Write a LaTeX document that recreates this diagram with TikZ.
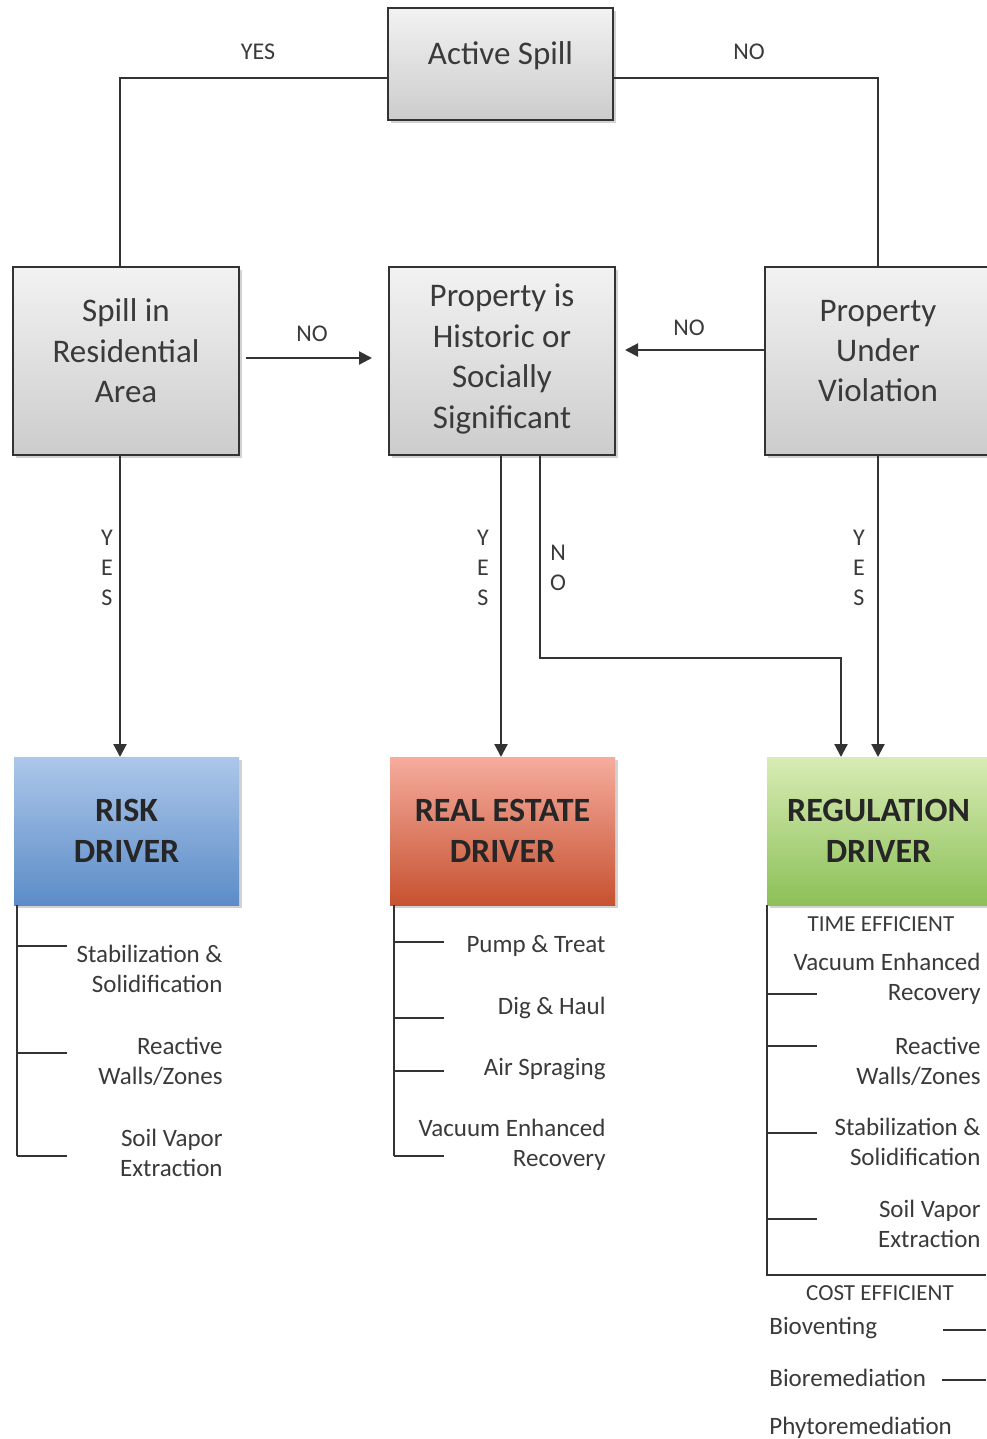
\documentclass[tikz,border=0pt]{standalone}
\usepackage{fontspec}
\setmainfont{Carlito}
\usetikzlibrary{arrows.meta,shadows,positioning}
\definecolor{lineC}{HTML}{333333}
\definecolor{txtC}{HTML}{3A3A3A}
\definecolor{boldC}{HTML}{262626}
\tikzset{
  gbox/.style={draw=lineC, line width=1pt, top color=white!95!black, bottom color=white!80!black,
    drop shadow={opacity=0.35, shadow xshift=1.5pt, shadow yshift=-1.5pt}, inner sep=0pt},
  boxtext/.style={text=txtC, align=center, font=\fontsize{16.5}{20.2}\selectfont, inner sep=0pt},
  dbox/.style={line width=0pt, draw=none, drop shadow={opacity=0.35, shadow xshift=1.5pt, shadow yshift=-1.5pt},
    minimum width=112.5pt, minimum height=74pt, align=center, text=boldC,
    font=\fontsize{17}{20.5}\selectfont\bfseries, inner sep=0pt},
  conn/.style={draw=lineC, line width=1.1pt},
  arr/.style={conn, -{Triangle[length=6.5pt,width=6.5pt]}},
  lbl/.style={text=txtC, font=\fontsize{12}{15}\selectfont, inner sep=0pt},
  vlbl/.style={text=txtC, font=\fontsize{12}{15}\selectfont, inner sep=0pt, align=center},
  item/.style={text=txtC, font=\fontsize{12.5}{15}\selectfont, inner sep=0pt, align=right, anchor=east},
  litem/.style={text=txtC, font=\fontsize{12.5}{15}\selectfont, inner sep=0pt, anchor=west},
  head/.style={text=txtC, font=\fontsize{11.5}{14}\selectfont, inner sep=0pt},
}
\begin{document}
\begin{tikzpicture}[x=0.5pt,y=-0.5pt]
\useasboundingbox[fill=white] (0,0) rectangle (986,1439);

% decision boxes
\node[gbox, minimum width=112.5pt, minimum height=56pt,
  label={[boxtext, yshift=4pt]center:Active Spill}] (active) at (500.5,64) {};
\node[gbox, minimum width=113pt, minimum height=94pt,
  label={[boxtext, yshift=5pt]center:Spill in\\Residential\\Area}] (spill) at (126,361) {};
\node[gbox, minimum width=113pt, minimum height=94pt,
  label={[boxtext, yshift=1pt]center:Property is\\Historic or\\Socially\\Significant}] (hist) at (502,361) {};
\node[gbox, minimum width=113pt, minimum height=94pt,
  label={[boxtext, yshift=5pt]center:Property\\Under\\Violation}] (viol) at (878,361) {};

% driver boxes
\node[dbox, top color={rgb,255:red,172;green,199;blue,234}, bottom color={rgb,255:red,92;green,140;blue,199}] (risk) at (126.5,831) {RISK\\DRIVER};
\node[dbox, top color={rgb,255:red,246;green,172;blue,158}, bottom color={rgb,255:red,198;green,82;blue,48}] (re) at (502.5,831) {REAL ESTATE\\DRIVER};
\node[dbox, minimum width=111.5pt, top color={rgb,255:red,216;green,236;blue,180}, bottom color={rgb,255:red,140;green,192;blue,88}] (reg) at (878.5,831) {REGULATION\\DRIVER};

% top connectors
\draw[conn] ([yshift=-7pt]active.west) -| ([xshift=-3pt]spill.north);
\draw[conn] ([yshift=-7pt]active.east) -| (viol.north);
\node[lbl] (yes1) at (258,52) {YES};
\node[lbl] (no1) at (749,52) {NO};

% horizontal NO arrows
\draw[arr] ([xshift=3pt,yshift=1.5pt]spill.east) -- ([xshift=-8pt,yshift=1.5pt]hist.west);
\node[lbl] (no2) at (312,334) {NO};
\draw[arr] ([yshift=5.5pt]viol.west) -- ([xshift=4.5pt,yshift=5.5pt]hist.east);
\node[lbl] (no3) at (689,328) {NO};

% vertical arrows
\draw[arr] ([xshift=-3pt]spill.south) -- ([xshift=-3.25pt]risk.north);
\node[vlbl] (yes2) at (107,568) {Y\\E\\S};
\draw[arr] ([xshift=-0.5pt]hist.south) -- ([xshift=-0.75pt]re.north);
\node[vlbl] (yes3) at (483,568) {Y\\E\\S};
\draw[arr] ([xshift=19pt]hist.south) -- ++(0,202) -| ([xshift=-18.75pt]reg.north);
\node[vlbl] (no4) at (558,568) {N\\O};
\draw[arr] (viol.south) -- ([xshift=-0.25pt]reg.north);
\node[vlbl] (yes4) at (859,568) {Y\\E\\S};

% RISK list
\draw[conn] ([xshift=1.5pt]risk.south west) -- (17,1156);
\draw[conn] (17,946) -- (67,946);
\draw[conn] (17,1053) -- (67,1053);
\draw[conn] (17,1156) -- (67,1156);
\node[item] (r1) at (223,969) {Stabilization \&\\Solidification};
\node[item] (r2) at (223,1061) {Reactive\\Walls/Zones};
\node[item] (r3) at (223,1153) {Soil Vapor\\Extraction};

% REAL ESTATE list
\draw[conn] ([xshift=2pt]re.south west) -- (394,1156);
\draw[conn] (394,942) -- (444,942);
\draw[conn] (394,1018) -- (444,1018);
\draw[conn] (394,1071) -- (444,1071);
\draw[conn] (394,1156) -- (444,1156);
\node[item] (e1) at (606,946) {Pump \& Treat};
\node[item] (e2) at (606,1008) {Dig \& Haul};
\node[item] (e3) at (606,1069) {Air Spraging};
\node[item] (e4) at (606,1145) {Vacuum Enhanced\\Recovery};

% REGULATION list
\draw[conn] ([xshift=0pt]reg.south west) -- (767,1275) -- (986,1275);
\draw[conn] (767,994) -- (817,994);
\draw[conn] (767,1046) -- (817,1046);
\draw[conn] (767,1133) -- (817,1133);
\draw[conn] (767,1219) -- (817,1219);
\node[head] (te) at (881,924) {TIME EFFICIENT};
\node[item] (g1) at (981,979) {Vacuum Enhanced\\Recovery};
\node[item] (g2) at (981,1061) {Reactive\\Walls/Zones};
\node[item] (g3) at (981,1142) {Stabilization \&\\Solidification};
\node[item] (g4) at (981,1224) {Soil Vapor\\Extraction};
\node[head] (ce) at (880,1293) {COST EFFICIENT};
\node[litem] (c1) at (769,1328) {Bioventing};
\node[litem] (c2) at (769,1378) {Bioremediation};
\node[litem] (c3) at (769,1428) {Phytoremediation};
\draw[conn] (943,1330) -- (986,1330);
\draw[conn] (942,1380) -- (986,1380);
\end{tikzpicture}
\end{document}
